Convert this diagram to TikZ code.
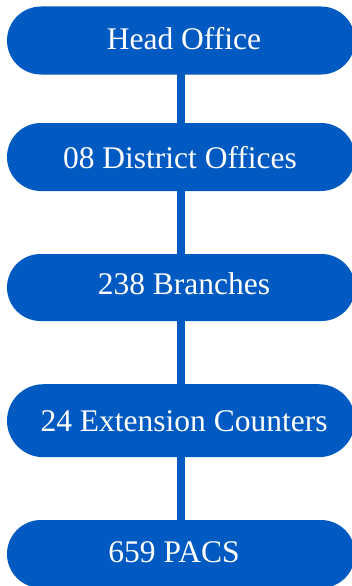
\documentclass[tikz,border=0pt]{standalone}
\usepackage{fontspec}
\setmainfont{Liberation Serif}
\usetikzlibrary{shapes.misc}
\definecolor{orgblue}{RGB}{0,90,194}
\begin{document}
\begin{tikzpicture}[x=1pt,y=-1pt,
  tier/.style={rounded rectangle,rounded rectangle arc length=180,fill=orgblue,draw=none,inner sep=0pt,minimum width=348pt},
  tiertext/.style={text=white,font=\fontsize{31.5}{31.5}\selectfont,anchor=base,inner sep=0pt},
  link/.style={draw=orgblue,line width=7.7pt}]
\useasboundingbox (0,0) rectangle (351,586);
% pill-shaped levels
\node[tier,minimum height=68pt] (b1) at (181,40.5) {};
\node[tier,minimum height=68pt] (b2) at (181,157) {};
\node[tier,minimum height=67pt] (b3) at (181,287.5) {};
\node[tier,minimum height=73pt] (b4) at (181,420.7) {};
\node[tier,minimum height=68pt] (b5) at (181,554) {};
% vertical connectors between levels
\path[link] ([yshift=1pt]b1.south) -- ([yshift=-1pt]b2.north);
\path[link] ([yshift=1pt]b2.south) -- ([yshift=-1pt]b3.north);
\path[link] ([yshift=1pt]b3.south) -- ([yshift=-1pt]b4.north);
\path[link] ([yshift=1pt]b4.south) -- ([yshift=-1pt]b5.north);
% labels
\node[tiertext] (t1) at (184,50) {Head Office};
\node[tiertext] (t2) at (180,168) {08 District Offices};
\node[tiertext] (t3) at (184,294.3) {238 Branches};
\node[tiertext] (t4) at (184,431.5) {24 Extension Counters};
\node[tiertext] (t5) at (174,562.7) {659 PACS};
\end{tikzpicture}
\end{document}
